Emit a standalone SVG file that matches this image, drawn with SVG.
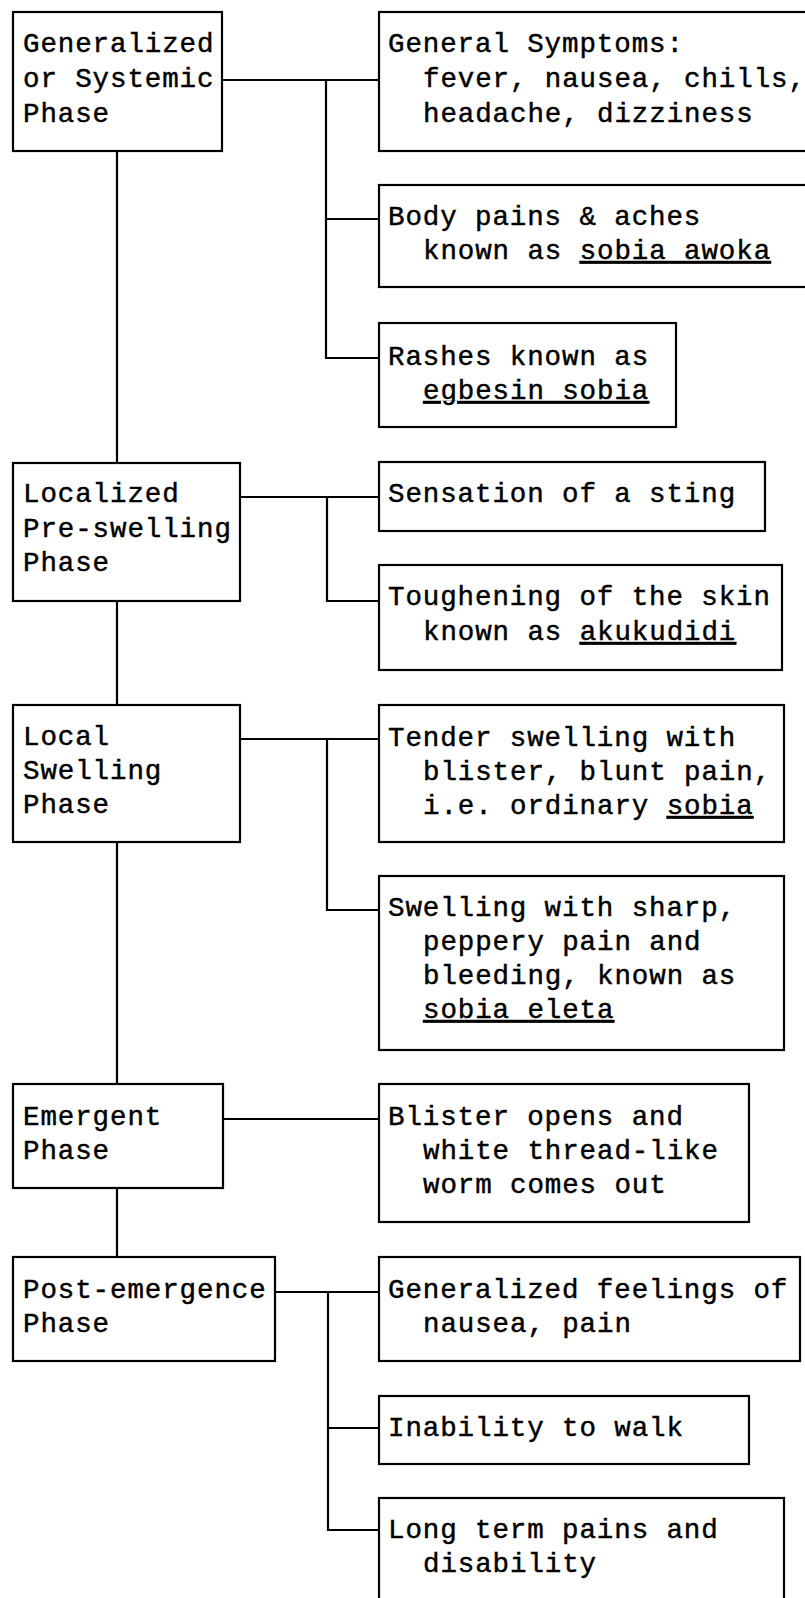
<svg xmlns="http://www.w3.org/2000/svg" width="805" height="1598" viewBox="0 0 805 1598">
<style>
.box{fill:#fff;stroke:#000;stroke-width:2.2}
.c{fill:none;stroke:#000;stroke-width:2.2}
text{font-family:"Liberation Mono","Courier New",monospace;font-size:27.5px;letter-spacing:0.9px;fill:#000;stroke:#000;stroke-width:0.45}
.u{text-decoration:underline}
</style>
<rect width="805" height="1598" fill="#fff"/>
<g id="connectors">
<path class="c" d="M117 151V463M117 601V705M117 842V1084M117 1188V1257"/>
<path class="c" d="M222 80H379M326 80V358H379M326 219H379"/>
<path class="c" d="M240 497H379M327 497V601H379"/>
<path class="c" d="M240 739H379M327 739V910H379"/>
<path class="c" d="M223 1119H379"/>
<path class="c" d="M275 1292H379M328 1292V1530H379M328 1428H379"/>
</g>
<g id="phase-generalized">
<rect class="box" x="13" y="12" width="209" height="139"/>
<text x="23" y="52">Generalized</text>
<text x="23" y="87">or Systemic</text>
<text x="23" y="122">Phase</text>
</g>
<g id="general-symptoms">
<rect class="box" x="379" y="12" width="440" height="139"/>
<text x="388" y="52">General Symptoms:</text>
<text x="423" y="87">fever, nausea, chills,</text>
<text x="423" y="122">headache, dizziness</text>
</g>
<g id="body-pains">
<rect class="box" x="379" y="185" width="440" height="102"/>
<text x="388" y="225">Body pains &amp; aches</text>
<text x="423" y="259">known as <tspan class="u">sobia awoka</tspan></text>
</g>
<g id="rashes">
<rect class="box" x="379" y="323" width="297" height="104"/>
<text x="388" y="365">Rashes known as</text>
<text x="423" y="399" class="u">egbesin sobia</text>
</g>
<g id="phase-localized">
<rect class="box" x="13" y="463" width="227" height="138"/>
<text x="23" y="502">Localized</text>
<text x="23" y="537">Pre-swelling</text>
<text x="23" y="571">Phase</text>
</g>
<g id="sting">
<rect class="box" x="379" y="462" width="386" height="69"/>
<text x="388" y="502">Sensation of a sting</text>
</g>
<g id="toughening">
<rect class="box" x="379" y="565" width="403" height="105"/>
<text x="388" y="605">Toughening of the skin</text>
<text x="423" y="640">known as <tspan class="u">akukudidi</tspan></text>
</g>
<g id="phase-local-swelling">
<rect class="box" x="13" y="705" width="227" height="137"/>
<text x="23" y="745">Local</text>
<text x="23" y="779">Swelling</text>
<text x="23" y="813">Phase</text>
</g>
<g id="tender-swelling">
<rect class="box" x="379" y="705" width="405" height="137"/>
<text x="388" y="746">Tender swelling with</text>
<text x="423" y="780">blister, blunt pain,</text>
<text x="423" y="814">i.e. ordinary <tspan class="u">sobia</tspan></text>
</g>
<g id="sharp-swelling">
<rect class="box" x="379" y="876" width="405" height="174"/>
<text x="388" y="916">Swelling with sharp,</text>
<text x="423" y="950">peppery pain and</text>
<text x="423" y="984">bleeding, known as</text>
<text x="423" y="1018" class="u">sobia eleta</text>
</g>
<g id="phase-emergent">
<rect class="box" x="13" y="1084" width="210" height="104"/>
<text x="23" y="1125">Emergent</text>
<text x="23" y="1159">Phase</text>
</g>
<g id="blister-opens">
<rect class="box" x="379" y="1084" width="370" height="138"/>
<text x="388" y="1125">Blister opens and</text>
<text x="423" y="1159">white thread-like</text>
<text x="423" y="1193">worm comes out</text>
</g>
<g id="phase-post-emergence">
<rect class="box" x="13" y="1257" width="262" height="104"/>
<text x="23" y="1298">Post-emergence</text>
<text x="23" y="1332">Phase</text>
</g>
<g id="generalized-feelings">
<rect class="box" x="379" y="1257" width="421" height="104"/>
<text x="388" y="1298">Generalized feelings of</text>
<text x="423" y="1332">nausea, pain</text>
</g>
<g id="inability">
<rect class="box" x="379" y="1396" width="370" height="68"/>
<text x="388" y="1436">Inability to walk</text>
</g>
<g id="long-term">
<rect class="box" x="379" y="1498" width="405" height="130"/>
<text x="388" y="1538">Long term pains and</text>
<text x="423" y="1572">disability</text>
</g>
</svg>
